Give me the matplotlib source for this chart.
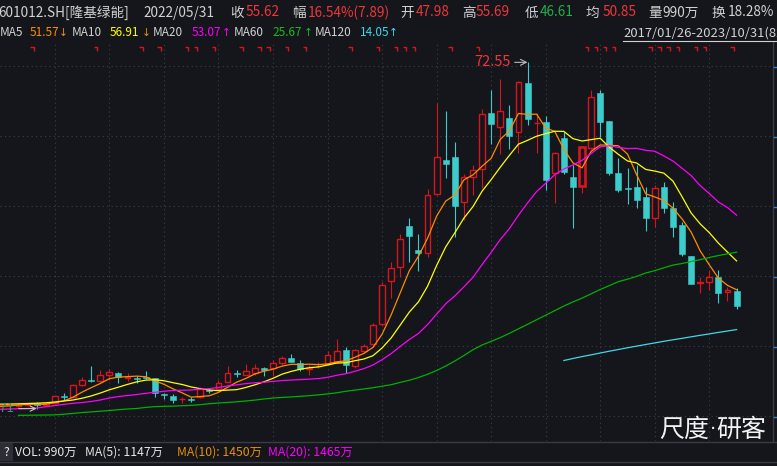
import numpy as np
import pandas as pd
import matplotlib
matplotlib.use("Agg")
import matplotlib.pyplot as plt
from matplotlib.collections import LineCollection

plt.rcParams['font.family'] = ['Noto Sans CJK SC', 'DejaVu Sans']

# ---------------- data (monthly, 2017/01 .. 2023/10) ----------------
opens = [4.52, 4.42, 4.32, 4.52, 4.88, 4.52, 4.76, 6.31, 6.07, 8.40,
         9.39, 9.25, 10.39, 10.84, 9.79, 9.79, 9.93, 9.73, 6.61, 6.21,
         5.56, 5.61, 5.95, 7.34, 7.54, 9.05, 10.78, 10.44, 10.84, 11.72,
         11.84, 12.82, 13.77, 12.74, 11.64, 12.17, 12.57, 12.91, 15.36, 12.23,
         15.22, 16.49, 20.53, 29.13, 31.80, 40.01, 35.24, 34.58, 46.31, 53.13,
         53.79, 44.72, 49.69, 51.30, 62.53, 59.63, 61.42, 58.64, 68.50, 60.49,
         60.74, 50.49, 57.51, 49.81, 47.98, 55.60, 66.39, 60.88, 50.49, 47.56,
         47.70, 45.83, 41.54, 47.82, 43.53, 40.21, 34.04, 28.68, 28.82, 29.93,
         26.83, 27.09]
highs = [4.82, 4.82, 4.72, 4.92, 5.12, 5.02, 6.41, 6.81, 8.60, 9.99,
         12.17, 11.38, 11.52, 10.98, 10.72, 10.18, 11.18, 9.89, 6.87, 6.55,
         5.95, 6.07, 8.06, 7.86, 9.39, 12.17, 11.38, 12.57, 12.57, 12.04,
         13.37, 14.15, 14.57, 13.37, 12.37, 12.91, 15.22, 17.48, 16.01, 15.46,
         16.55, 20.78, 28.82, 32.79, 38.42, 41.54, 38.42, 47.31, 64.46, 62.87,
         56.77, 50.35, 52.04, 63.21, 67.05, 69.23, 64.07, 68.84, 72.55, 62.41,
         61.88, 54.78, 58.76, 52.14, 55.69, 67.05, 67.05, 60.98, 53.47, 51.48,
         52.14, 47.82, 48.16, 48.82, 44.84, 40.86, 34.14, 29.93, 31.26, 31.26,
         27.94, 27.62]
lows = [4.22, 4.22, 4.02, 4.32, 3.71, 4.32, 4.62, 5.42, 5.92, 8.20,
        9.05, 9.05, 9.39, 8.73, 9.25, 8.85, 9.59, 6.07, 5.56, 4.76,
        4.76, 5.08, 5.88, 6.74, 7.40, 8.99, 9.93, 10.39, 10.39, 10.19,
        10.19, 12.37, 12.91, 11.18, 10.45, 11.84, 12.47, 12.87, 10.84, 11.84,
        14.82, 16.01, 20.13, 25.75, 29.93, 32.91, 31.12, 33.91, 46.17, 49.55,
        37.76, 41.20, 46.27, 47.56, 56.31, 54.32, 55.26, 54.46, 60.09, 54.46,
        47.17, 44.64, 50.35, 39.61, 46.61, 55.30, 57.76, 50.15, 46.83, 44.38,
        43.53, 39.08, 39.87, 42.53, 37.88, 34.10, 28.48, 26.75, 27.29, 24.76,
        25.16, 23.45]
closes = [4.62, 4.62, 4.42, 4.72, 4.36, 4.76, 6.27, 6.11, 8.40, 9.39,
          9.19, 10.39, 10.92, 9.93, 9.93, 9.65, 9.79, 6.87, 6.47, 5.42,
          5.67, 5.48, 7.54, 7.20, 8.73, 10.72, 10.64, 11.18, 11.72, 11.44,
          12.70, 13.70, 13.01, 11.52, 11.78, 12.27, 14.36, 15.16, 12.37, 15.36,
          16.15, 20.33, 28.28, 31.60, 37.37, 38.08, 34.58, 46.17, 53.67, 52.33,
          44.05, 49.69, 51.14, 62.22, 60.29, 62.87, 57.96, 68.58, 61.28, 60.55,
          49.16, 54.46, 50.80, 47.82, 55.62, 65.60, 60.74, 50.61, 47.17, 47.43,
          45.18, 41.66, 47.50, 43.65, 39.87, 34.44, 28.54, 28.78, 29.81, 26.63,
          27.29, 24.16]

# moving-average values before enough bars exist in the window
ma5_head = [4.12, 4.26, 4.42, 4.56]
ma10_head = [4.62, 4.62, 4.66, 4.72, 4.78, 4.86, 5.02, 5.22, 5.42]
ma20_head = [3.57, 3.63, 3.69, 3.73, 3.83, 4.08, 4.32, 4.56, 4.76, 4.92,
             5.12, 5.42, 5.81, 6.11, 6.31, 6.51, 6.75, 6.95, 7.15]
ma60_start = 2
ma60 = [2.37, 2.39, 2.41, 2.43, 2.47, 2.59, 2.75, 2.93, 3.05, 3.19,
        3.33, 3.49, 3.63, 3.73, 3.95, 4.10, 4.16, 4.20, 4.28, 4.36,
        4.48, 4.68, 4.82, 4.94, 5.06, 5.22, 5.40, 5.62, 5.81, 5.93,
        6.03, 6.15, 6.27, 6.45, 6.63, 6.85, 7.15, 7.38, 7.62, 7.86,
        8.16, 8.46, 8.92, 9.35, 9.89, 10.53, 11.28, 12.17, 13.17, 14.26,
        15.41, 16.35, 17.08, 17.82, 18.67, 19.57, 20.46, 21.38, 22.27, 23.19,
        24.10, 24.92, 25.67, 26.53, 27.39, 28.16, 28.96, 29.43, 29.99, 30.67,
        31.14, 31.70, 32.24, 32.55, 32.95, 33.33, 33.75, 34.14, 34.48, 34.80]
ma120_start = 62
ma120 = [13.27, 13.67, 14.05, 14.40, 14.76, 15.12, 15.46, 15.80, 16.13, 16.45,
         16.77, 17.09, 17.39, 17.68, 17.98, 18.28, 18.56, 18.86, 19.14, 19.42]

# bars carrying an info marker along the top edge
marker_bars = [4, 11, 16, 18, 21, 22, 24, 27, 29, 30, 32, 34, 39, 42, 44, 45, 46,
               50, 53, 65, 66, 67, 68, 72, 73, 74, 75, 77, 78, 81]

selected = 64        # 2022/05 (cursor bar)
peak_idx, peak_val = 58, 72.55
low_idx, low_val = 4, 3.71
grid_every = 6

# ---------------- style ----------------
W, H, DPI = 777, 466, 100
BG = '#14161b'
RED = '#d8141c'
CYAN = '#3dcccc'
C_MA5 = '#ff8c00'
C_MA10 = '#ffff00'
C_MA20 = '#ff00ff'
C_MA60 = '#00b000'
C_MA120 = '#43d7e6'
GRID = '#3c3f46'
TXT = '#d2d2d2'
VRED = '#f0363a'
VGREEN = '#22b04a'

n = len(closes)
idx = np.arange(n)
o = np.array(opens); h = np.array(highs); l = np.array(lows); c = np.array(closes)
cs = pd.Series(c)
ma5 = cs.rolling(5).mean().to_numpy(); ma5[:4] = ma5_head
ma10 = cs.rolling(10).mean().to_numpy(); ma10[:9] = ma10_head
ma20 = cs.rolling(20).mean().to_numpy(); ma20[:19] = ma20_head

fig = plt.figure(figsize=(W / DPI, H / DPI), dpi=DPI, facecolor=BG)


def frect(x0, y0, x1, y1):
    return [x0 / W, 1 - y1 / H, (x1 - x0) / W, (y1 - y0) / H]


def fx(x):
    return x / W


def fy(y):
    return 1 - y / H


# main price panel: pixel 0..772 horizontally, 42..441 vertically
TOP, BOT, RIGHT = 42, 441, 772
X0, DX = 0.3, 9.09              # pixel of bar 0, pixels per bar
RY, RP, PPU = 141.0, 56.91, 5.03  # reference pixel row / price, pixels per unit
ax = fig.add_axes(frect(0, TOP, RIGHT, BOT))
ax.set_facecolor(BG)
ax.set_xlim((0 - X0) / DX, (RIGHT - X0) / DX)
ax.set_ylim(RP - (BOT - RY) / PPU, RP + (RY - TOP) / PPU)
for s in ax.spines.values():
    s.set_visible(False)
ax.set_xticks([]); ax.set_yticks([])


def ay(ypix):
    """pixel row -> axes fraction of the price panel"""
    return (BOT - ypix) / (BOT - TOP)


# grid
grid_rows = [66, 136, 206, 276, 346, 416]
for gy in grid_rows:
    ax.axhline(RP - (gy - RY) / PPU, color=GRID, lw=0.8, ls=(0, (1, 3)), zorder=0)
for gx in range(grid_every, n, grid_every):
    ax.axvline(gx, color=GRID, lw=0.8, ls=(0, (1, 3)), zorder=0)

# info markers (small red corner marks)
segs = []
for b in marker_bars:
    xr = b - 3.0 / DX
    xl = xr - 3.5 / DX
    segs.append([(xl, ay(47)), (xr, ay(47)), (xr, ay(51))])
ax.add_collection(LineCollection(segs, colors=RED, linewidths=1.0,
                                 transform=ax.get_xaxis_transform(), zorder=5))

up = c >= o
colors = np.where(up, RED, CYAN)
ax.vlines(idx, l, h, colors=colors, lw=0.8, zorder=2)
lo = np.minimum(o, c)
bh = np.maximum(np.abs(c - o), 0.06)
norm = idx != selected
m = up & norm
ax.bar(idx[m], bh[m], bottom=lo[m], width=0.64, facecolor=BG, edgecolor=RED,
       linewidth=1.0, zorder=3)
m = (~up) & norm
ax.bar(idx[m], bh[m], bottom=lo[m], width=0.66, facecolor=CYAN, edgecolor=CYAN,
       linewidth=0.4, zorder=3)
ax.bar([selected], [bh[selected]], bottom=[lo[selected]], width=0.6,
       facecolor=BG, edgecolor=RED, linewidth=1.9, zorder=3)

# moving averages
lw_ma = 0.9
ax.plot(idx, ma5, color=C_MA5, lw=lw_ma, zorder=4)
ax.plot(idx, ma10, color=C_MA10, lw=lw_ma, zorder=4)
ax.plot(idx, ma20, color=C_MA20, lw=lw_ma, zorder=4)
ax.plot(idx[ma60_start:ma60_start + len(ma60)], ma60, color=C_MA60, lw=lw_ma, zorder=4)
ax.plot(idx[ma120_start:ma120_start + len(ma120)], ma120, color=C_MA120, lw=lw_ma, zorder=4)

# peak / low annotations
ax.annotate(f'{peak_val:.2f}', xy=(peak_idx, peak_val), xytext=(-17, 0),
            textcoords='offset pixels', ha='right', va='center', color=VRED,
            fontsize=10.5, zorder=6,
            arrowprops=dict(arrowstyle='->', color='#b8b8b8', lw=0.8,
                            shrinkA=1, shrinkB=0))
ax.annotate(f'{low_val:.2f}', xy=(low_idx, low_val), xytext=(-22, 0),
            textcoords='offset pixels', ha='right', va='center', color='#2aa35a',
            fontsize=9.5, zorder=6,
            arrowprops=dict(arrowstyle='->', color='#c8c8c8', lw=0.8,
                            shrinkA=1, shrinkB=0))

# separators, right border and price-axis ticks
fig.add_artist(plt.Line2D([0, 1], [fy(441.5)] * 2, color='#3a3c42', lw=1.0))
fig.add_artist(plt.Line2D([0, 1], [fy(461.5)] * 2, color='#3a3c42', lw=1.0))
fig.add_artist(plt.Line2D([fx(772.5)] * 2, [fy(42), fy(441.5)], color='#3a3c42', lw=1.0))
for gy in grid_rows:
    fig.add_artist(plt.Line2D([fx(774), 1], [fy(gy + 0.5)] * 2, color='#3f7fd0', lw=1.0))

# header row 1
FS = 9.8
row1 = [(-2, '601012.SH[隆基绿能]', TXT), (143.3, '2022/05/31', TXT),
        (230, '收', TXT), (246, '55.62', VRED),
        (291.7, '幅', TXT), (307.3, '16.54%(7.89)', VRED),
        (400.7, '开', TXT), (416, '47.98', VRED),
        (462.7, '高', TXT), (475.7, '55.69', VRED),
        (524.3, '低', TXT), (539.3, '46.61', VGREEN),
        (585, '均', TXT), (602.7, '50.85', VRED),
        (648.3, '量', TXT), (662.7, '990万', TXT),
        (711.7, '换', TXT), (727.3, '18.28%', TXT)]
for x, s, col in row1:
    fig.text(fx(x), fy(12.5), s, color=col, fontsize=FS, ha='left', va='center')

# header row 2 (MA legend): label, value, arrow-centre x positions
FS2 = 8.5
row2 = [(-0.5, 'MA5', 29.3, '51.57', 62.8, '↓', C_MA5, '#e8900c'),
        (71.7, 'MA10', 110, '56.91', 146.2, '↓', C_MA10, '#e8900c'),
        (152.7, 'MA20', 191.7, '53.07', 226.2, '↑', C_MA20, C_MA20),
        (233.3, 'MA60', 272.7, '25.67', 307.8, '↑', '#1fb81f', '#1fb81f'),
        (315, 'MA120', 359.5, '14.05', 393.3, '↑', C_MA120, C_MA120)]
for lx, lab, vx, val, axx, arr, col, acol in row2:
    fig.text(fx(lx), fy(33), lab, color=TXT, fontsize=FS2, ha='left', va='center')
    fig.text(fx(vx), fy(33), val, color=col, fontsize=FS2, ha='left', va='center')
    fig.text(fx(axx), fy(33), arr, color=acol, fontsize=7.6, ha='center', va='center',
             family='DejaVu Sans')
fig.text(fx(623.3), fy(33), '2017/01/26-2023/10/31(82)', color=TXT, fontsize=9.4,
         ha='left', va='center')
fig.add_artist(plt.Line2D([fx(623.3), 1], [fy(40.5)] * 2, color=TXT, lw=0.8))

# volume legend row
FS3 = 8.8
fig.patches.append(matplotlib.patches.Rectangle((0, fy(461)), fx(13.3), fy(442.5) - fy(461),
                                                transform=fig.transFigure,
                                                facecolor='#2b2e34', edgecolor='none'))
fig.text(fx(3), fy(452), '?', color='#e8e8e8', fontsize=FS3, ha='left', va='center')
row3 = [(15, 'VOL: 990万', '#e8e8e8'), (85, 'MA(5): 1147万', '#e8e8e8'),
        (176.7, 'MA(10): 1450万', '#e8900c'), (268.3, 'MA(20): 1465万', C_MA20)]
for x, s, col in row3:
    fig.text(fx(x), fy(452), s, color=col, fontsize=FS3, ha='left', va='center')

# watermark
fig.text(fx(659.5), fy(429.5), '尺度', color='#f2f2f2', fontsize=18, ha='left', va='center')
fig.text(fx(712.8), fy(429.5), '·', color='#f2f2f2', fontsize=14, ha='center', va='center',
         family='DejaVu Sans')
fig.text(fx(716), fy(429.5), '研客', color='#f2f2f2', fontsize=18, ha='left', va='center')

fig.savefig('out.png', dpi=DPI, facecolor=BG)
